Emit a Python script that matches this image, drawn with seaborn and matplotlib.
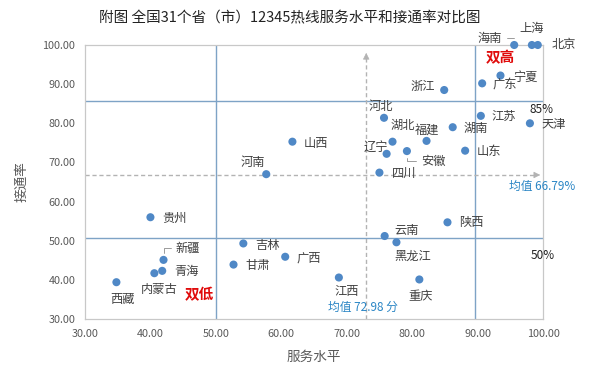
import matplotlib
matplotlib.use("Agg")
import matplotlib.pyplot as plt
import seaborn as sns
import pandas as pd

# ---- data ----
provinces = ["海南", "上海", "北京", "宁夏", "广东", "浙江", "河北", "江苏", "天津", "湖南",
             "福建", "湖北", "辽宁", "安徽", "山东", "四川", "山西", "河南", "贵州", "新疆",
             "青海", "内蒙古", "西藏", "吉林", "广西", "甘肃", "江西", "陕西", "云南", "黑龙江", "重庆"]
service = [95.6, 98.3, 99.2, 93.5, 90.7, 84.9, 75.7, 90.5, 98.0, 86.2,
           82.2, 77.0, 76.1, 79.2, 88.1, 75.0, 61.7, 57.7, 40.0, 42.0,
           41.8, 40.6, 34.8, 54.2, 60.6, 52.7, 68.8, 85.4, 75.8, 77.6, 81.1]
rate = [100.0, 100.0, 100.0, 92.2, 90.2, 88.5, 81.4, 81.9, 80.0, 79.0,
        75.5, 75.3, 72.2, 72.9, 73.0, 67.4, 75.3, 67.0, 56.0, 45.1,
        42.3, 41.7, 39.4, 49.3, 45.9, 43.9, 40.6, 54.7, 51.2, 49.6, 40.1]
mean_service = 72.98
mean_rate = 66.79
x_splits = [50, 89.6]
y_splits = [85.6, 50.7]
y_split_labels = ["85%", "50%"]
ticks = [30, 40, 50, 60, 70, 80, 90, 100]

title = "附图 全国31个省（市）12345热线服务水平和接通率对比图"

# label offsets in pixels (dx, dy), layout only
offsets = {
    "海南": (-24, 7), "上海": (0, 17), "北京": (26, 0), "宁夏": (25, -2), "广东": (23, -2),
    "浙江": (-21, 4), "河北": (-3, 11), "江苏": (23, -1), "天津": (24, -1), "湖南": (23, -1),
    "福建": (0, 11), "湖北": (10, 16), "辽宁": (-11, 7), "安徽": (26, -10), "山东": (24, -1),
    "四川": (25, -1), "山西": (24, -2), "河南": (-13, 12), "贵州": (24, -1), "新疆": (24, 12),
    "青海": (24, -1), "内蒙古": (5, -16), "西藏": (6, -17), "吉林": (24, -2), "广西": (24, -1),
    "甘肃": (24, -1), "江西": (8, -14), "陕西": (24, 0), "云南": (22, 6), "黑龙江": (16, -14),
    "重庆": (1, -17),
}
leaders = {"海南": "angle,angleA=0,angleB=90", "安徽": "angle,angleA=180,angleB=-90",
           "新疆": "angle,angleA=180,angleB=90"}

df = pd.DataFrame({"省份": provinces, "服务水平": service, "接通率": rate})

sns.set_theme(style="white")
plt.rcParams["font.family"] = ["Noto Sans CJK SC", "DejaVu Sans"]

fig = plt.figure(figsize=(5.95, 3.8), dpi=100)
ax = fig.add_axes([85 / 595, 1 - 319 / 380, (543 - 85) / 595, (319 - 45) / 380])

line_c = "#7ea3c6"
gray_d = "#b3b3b3"
for xv in x_splits:
    ax.axvline(xv, color=line_c, lw=1.0, zorder=1)
for yv in y_splits:
    ax.axhline(yv, color=line_c, lw=1.0, zorder=1)

# mean lines with arrows
ax.plot([30, 99], [mean_rate, mean_rate], ls=(0, (3, 2)), color=gray_d, lw=1.0, zorder=1)
ax.annotate("", xy=(100, mean_rate), xytext=(98.4, mean_rate),
            arrowprops=dict(arrowstyle="-|>", color=gray_d, lw=0.5, mutation_scale=10), zorder=1)
ax.plot([mean_service, mean_service], [30, 97.5], ls=(0, (3, 2)), color=gray_d, lw=1.0, zorder=1)
ax.annotate("", xy=(mean_service, 98.7), xytext=(mean_service, 95.5),
            arrowprops=dict(arrowstyle="-|>", color=gray_d, lw=0.5, mutation_scale=10), zorder=1)

sns.scatterplot(data=df, x="服务水平", y="接通率", ax=ax, color="#4f88c6",
                s=34, edgecolor="none", zorder=3, clip_on=False)

for name, xv, yv in zip(provinces, service, rate):
    dx, dy = offsets[name]
    kw = {}
    if name in leaders:
        kw["arrowprops"] = dict(arrowstyle="-", color="#8c8c8c", lw=0.6,
                                connectionstyle=leaders[name], shrinkA=1, shrinkB=5)
    ax.annotate(name, xy=(xv, yv), xytext=(dx, dy), textcoords="offset pixels",
                ha="center", va="center", fontsize=8.8, color="#404040", zorder=4, **kw)

ax.set_xlim(30, 100)
ax.set_ylim(30, 100)
ax.set_xticks(ticks)
ax.set_yticks(ticks)
ax.set_xticklabels([f"{t:.2f}" for t in ticks])
ax.set_yticklabels([f"{t:.2f}" for t in ticks])
ax.tick_params(axis="both", length=0, labelsize=7.8, colors="#595959", pad=7)
for sp in ax.spines.values():
    sp.set_color("#c8c8c8")
    sp.set_linewidth(0.9)

ax.set_xlabel("服务水平", fontsize=9.8, color="#595959", labelpad=8)
ax.set_ylabel("接通率", fontsize=9.8, color="#595959", labelpad=10)

# annotations
ax.annotate("双高", xy=(93.4, 100), xytext=(0, -12), textcoords="offset pixels",
            ha="center", va="center", fontsize=10.5, fontweight="bold", color="#e00b0b")
ax.annotate("双低", xy=(47.4, 30), xytext=(0, 25), textcoords="offset pixels",
            ha="center", va="center", fontsize=10.5, fontweight="bold", color="#e00b0b")
ax.annotate(y_split_labels[0], xy=(100, y_splits[0]), xytext=(-2, -8), textcoords="offset pixels",
            ha="center", va="center", fontsize=8.5, color="#222222")
ax.annotate(y_split_labels[1], xy=(100, y_splits[1]), xytext=(0, -18), textcoords="offset pixels",
            ha="center", va="center", fontsize=8.5, color="#222222")
ax.annotate(f"均值 {mean_rate:.2f}%", xy=(100, mean_rate), xytext=(-1, -11), textcoords="offset pixels",
            ha="center", va="center", fontsize=8.5, color="#2b86c5")
ax.annotate(f"均值 {mean_service:.2f} 分", xy=(mean_service, 30), xytext=(-3, 12), textcoords="offset pixels",
            ha="center", va="center", fontsize=8.5, color="#2b86c5")

fig.text(290 / 595, 1 - 18 / 380, title, ha="center", va="center", fontsize=10.5, color="#222222")

fig.savefig("out.png", dpi=100)
